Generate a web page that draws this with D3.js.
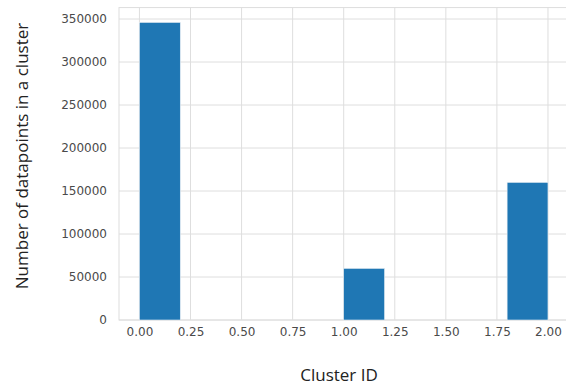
<!DOCTYPE html>
<html><head><meta charset="utf-8">
<script src="https://cdn.jsdelivr.net/npm/d3@7"></script>
<style>body{margin:0;background:#fff}</style>
</head><body>
<svg id="c" width="566" height="387"></svg>
<script>
const binEdges = [0.0,0.2,0.4,0.6,0.8,1.0,1.2,1.4,1.6,1.8,2.0];
const counts = [346000,0,0,0,0,60000,0,0,0,160000];
const xTicks = [0.00,0.25,0.50,0.75,1.00,1.25,1.50,1.75,2.00];
const yTicks = [0,50000,100000,150000,200000,250000,300000,350000];
const xLabel = "Cluster ID";
const yLabel = "Number of datapoints in a cluster";

const svg = d3.select("#c");
const x = d3.scaleLinear().domain([-0.1, 2.1]).range([119, 568.4]);
const yMax = d3.max(counts) * 1.05;
const y = d3.scaleLinear().domain([0, yMax]).range([320, 320 - yMax * 301/350000]);
const grid = "#dedede";

svg.append("rect").attr("x", x(-0.1)).attr("y", y(yMax)).attr("width", x(2.1)-x(-0.1)).attr("height", y(0)-y(yMax))
  .attr("fill","none").attr("stroke",grid).attr("stroke-width",1);

svg.append("g").selectAll("line").data(xTicks).join("line")
  .attr("x1", d=>x(d)).attr("x2", d=>x(d)).attr("y1", y(0)).attr("y2", y(yMax))
  .attr("stroke",grid).attr("stroke-width",1);
svg.append("g").selectAll("line").data(yTicks).join("line")
  .attr("x1", x(-0.1)).attr("x2", x(2.1)).attr("y1", d=>y(d)).attr("y2", d=>y(d))
  .attr("stroke",grid).attr("stroke-width",1);

const bins = counts.map((c,i)=>({x0:binEdges[i], x1:binEdges[i+1], c}));
svg.append("g").selectAll("rect").data(bins.filter(b=>b.c>0)).join("rect")
  .attr("x", d=>x(d.x0)).attr("width", d=>x(d.x1)-x(d.x0))
  .attr("y", d=>y(d.c)).attr("height", d=>y(0)-y(d.c))
  .attr("fill","#1f77b4").attr("stroke","#e8eef4").attr("stroke-width",0.6);

const xAxis = d3.axisBottom(x).tickValues(xTicks).tickFormat(d3.format(".2f")).tickSize(0).tickPadding(7);
const gx = svg.append("g").attr("transform",`translate(0,${y(0)})`).call(xAxis);
const yAxis = d3.axisLeft(y).tickValues(yTicks).tickFormat(d3.format("d")).tickSize(0).tickPadding(12);
const gy = svg.append("g").attr("transform",`translate(${x(-0.1)},0)`).call(yAxis);
[gx,gy].forEach(g=>{
  g.select(".domain").remove();
  g.selectAll("text").attr("font-family","DejaVu Sans").attr("font-size",12).attr("fill","#4a4a4a");
});

svg.append("text").attr("x",339).attr("y",381).attr("text-anchor","middle")
  .attr("font-family","Open Sans").attr("font-size",17).attr("fill","#222").text(xLabel);
svg.append("text").attr("transform","translate(28,156) rotate(-90)").attr("text-anchor","middle")
  .attr("font-family","Open Sans").attr("font-size",17).attr("fill","#222").text(yLabel);
</script>
</body></html>
